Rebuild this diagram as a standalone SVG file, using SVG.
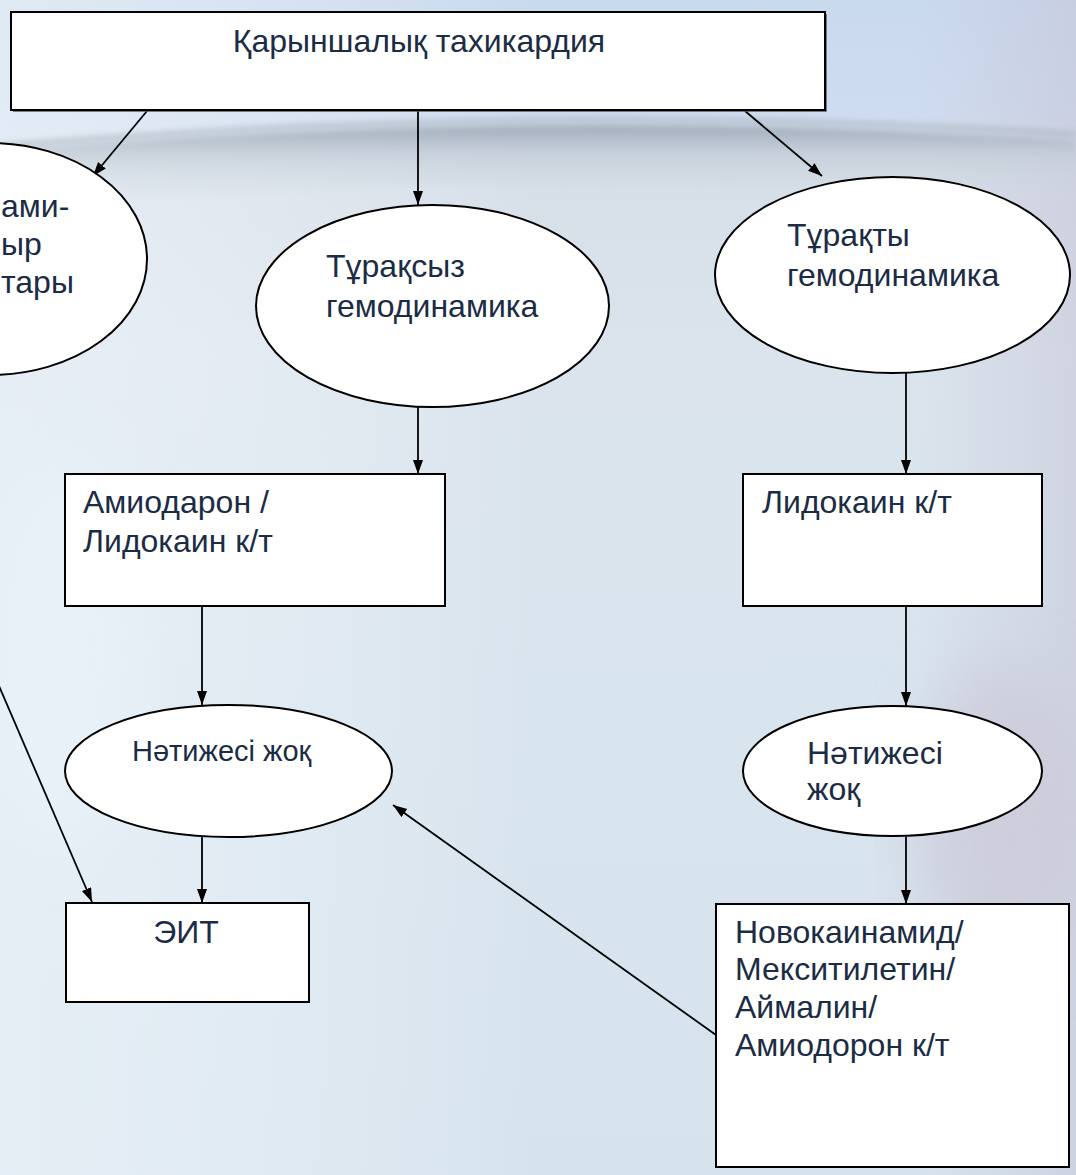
<svg xmlns="http://www.w3.org/2000/svg" width="1076" height="1175" viewBox="0 0 1076 1175">
<defs>
<linearGradient id="bg" x1="0" y1="0" x2="0" y2="1">
<stop offset="0" stop-color="#c9d9ee"/>
<stop offset="0.1" stop-color="#cfdcef"/>
<stop offset="0.14" stop-color="#d6dee8"/>
<stop offset="0.3" stop-color="#dbe4ed"/>
<stop offset="0.6" stop-color="#d8e4ee"/>
<stop offset="1" stop-color="#d6e3ee"/>
</linearGradient>
<linearGradient id="band" x1="0" y1="0" x2="0" y2="1">
<stop offset="0" stop-color="#9aa6b3" stop-opacity="0.9"/>
<stop offset="0.35" stop-color="#c2ccd6" stop-opacity="0.7"/>
<stop offset="1" stop-color="#d8e0e8" stop-opacity="0"/>
</linearGradient>
<linearGradient id="side" x1="0" y1="0" x2="1" y2="0">
<stop offset="0" stop-color="#eef5fa" stop-opacity="0.6"/>
<stop offset="0.5" stop-color="#ffffff" stop-opacity="0"/>
<stop offset="0.85" stop-color="#c9c6d8" stop-opacity="0"/>
<stop offset="1" stop-color="#c6c3d6" stop-opacity="0.5"/>
</linearGradient>
<filter id="blur" x="-10%" y="-50%" width="120%" height="200%"><feGaussianBlur stdDeviation="3"/></filter>
<filter id="blur2" x="-20%" y="-20%" width="140%" height="140%"><feGaussianBlur stdDeviation="30"/></filter>
<marker id="arr" markerWidth="15" markerHeight="11" refX="14" refY="5" orient="auto" markerUnits="userSpaceOnUse">
<path d="M0,0 L14,5 L0,10 z" fill="#000"/>
</marker>
<style>
.shape{fill:#fff;stroke:#000;stroke-width:2}
.t{font-family:"Liberation Sans",Arial,sans-serif;font-size:32px;fill:#1b2c44}
.s{font-size:29px}
.c{fill:none;stroke:#000;stroke-width:1.8;marker-end:url(#arr)}
</style>
</defs>
<g id="background">
<rect width="1076" height="1175" fill="url(#bg)"/>
<rect width="1076" height="1175" fill="url(#side)"/>
<ellipse cx="1000" cy="820" rx="90" ry="160" fill="#cbc6d6" opacity="0.6" filter="url(#blur2)"/>
<ellipse cx="60" cy="650" rx="80" ry="200" fill="#eaf3f9" opacity="0.7" filter="url(#blur2)"/>
<path d="M0,150 Q540,105 1076,140 L1076,200 Q540,165 0,210 Z" fill="url(#band)" filter="url(#blur)"/>
<path d="M0,146 Q540,100 1076,134" fill="none" stroke="#a3adb8" stroke-width="3" filter="url(#blur)"/>
</g>
<g id="connectors">
<line class="c" x1="147" y1="111" x2="93" y2="176"/>
<line class="c" x1="418" y1="111" x2="418" y2="205"/>
<line class="c" x1="745" y1="111" x2="822" y2="176"/>
<line class="c" x1="418" y1="407" x2="418" y2="474"/>
<line class="c" x1="906" y1="373" x2="906" y2="474"/>
<line class="c" x1="202" y1="607" x2="202" y2="705"/>
<line class="c" x1="906" y1="607" x2="906" y2="706"/>
<line class="c" x1="202" y1="837" x2="202" y2="903"/>
<line class="c" x1="906" y1="837" x2="906" y2="904"/>
<line class="c" x1="716" y1="1035" x2="393" y2="805"/>
<line class="c" x1="-10" y1="665" x2="92" y2="902"/>
</g>
<g id="n-title">
<rect x="13" y="14" width="814" height="98" fill="#4a4f58" opacity="0.7"/>
<rect class="shape" x="11" y="12" width="814" height="98"/>
<text class="t" x="419" y="52" text-anchor="middle">Қарыншалық тахикардия</text>
</g>
<g id="n-left">
<ellipse class="shape" cx="-10" cy="259" rx="157" ry="116"/>
<text class="t" x="1" y="217">ами-</text>
<text class="t" x="1" y="255">ыр</text>
<text class="t" x="1" y="293">тары</text>
</g>
<g id="n-unstable">
<ellipse class="shape" cx="432.5" cy="306" rx="176.5" ry="101"/>
<text class="t" x="326" y="277">Тұрақсыз</text>
<text class="t" x="326" y="317">гемодинамика</text>
</g>
<g id="n-stable">
<ellipse class="shape" cx="892.5" cy="275" rx="177.5" ry="98"/>
<text class="t" x="787" y="246">Тұрақты</text>
<text class="t" x="787" y="286">гемодинамика</text>
</g>
<g id="n-amio">
<rect class="shape" x="65" y="474" width="380" height="132"/>
<text class="t" x="83" y="513">Амиодарон /</text>
<text class="t" x="83" y="552">Лидокаин к/т</text>
</g>
<g id="n-lido">
<rect class="shape" x="743" y="474" width="299" height="132"/>
<text class="t" x="762" y="513">Лидокаин к/т</text>
</g>
<g id="n-noresult-left">
<ellipse class="shape" cx="228.5" cy="771" rx="163.5" ry="66"/>
<text class="t s" x="132" y="761">Нәтижесі жоқ</text>
</g>
<g id="n-noresult-right">
<ellipse class="shape" cx="892.5" cy="771" rx="149.5" ry="65"/>
<text class="t" x="807" y="764">Нәтижесі</text>
<text class="t" x="807" y="800">жоқ</text>
</g>
<g id="n-eit">
<rect class="shape" x="66" y="903" width="243" height="99"/>
<text class="t" x="186" y="943" text-anchor="middle">ЭИТ</text>
</g>
<g id="n-drugs">
<rect class="shape" x="716" y="904" width="353" height="263"/>
<text class="t" x="735" y="943">Новокаинамид/</text>
<text class="t" x="735" y="980">Мекситилетин/</text>
<text class="t" x="735" y="1018">Аймалин/</text>
<text class="t" x="735" y="1056">Амиодорон к/т</text>
</g>
</svg>
